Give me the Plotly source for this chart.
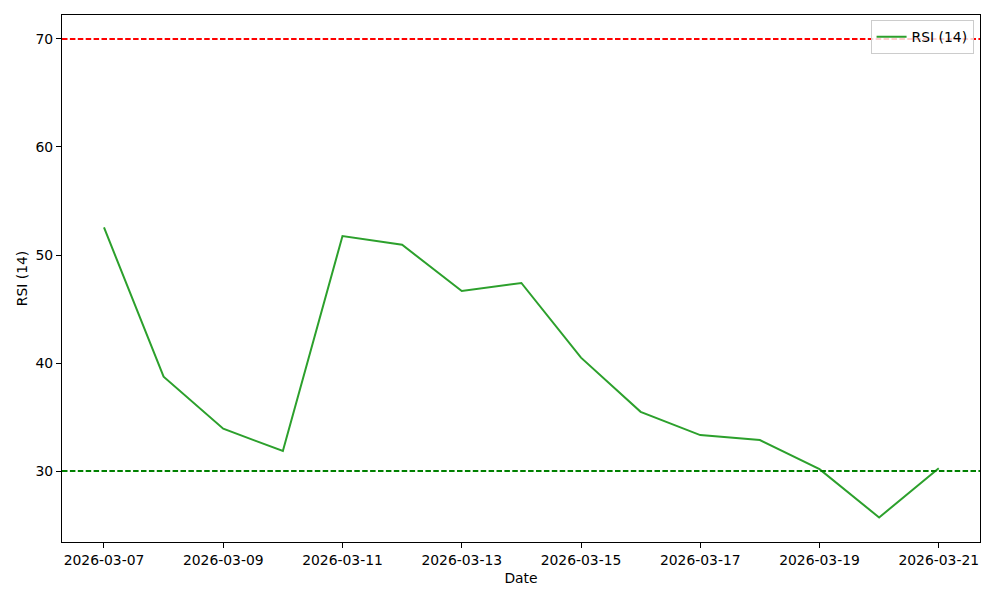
import plotly.graph_objects as go
import pandas as pd

dates = pd.date_range("2026-03-07", "2026-03-21", freq="D").strftime("%Y-%m-%d").tolist()
rsi = [52.55, 38.73, 33.92, 31.85, 51.76, 50.95, 46.67, 47.41, 40.5, 35.48, 33.33, 32.87, 30.17, 25.7, 30.26]
overbought = 70
oversold = 30
tick_dates = dates[::2]

fig = go.Figure()
fig.add_trace(go.Scatter(x=dates, y=rsi, mode="lines", name="RSI (14)",
                         line=dict(color="#2ca02c", width=2)))

fig.add_shape(type="line", xref="paper", x0=0, x1=1, yref="y", y0=overbought, y1=overbought,
              line=dict(color="#ff0000", width=2, dash="5.5px,2.4px"))
fig.add_shape(type="line", xref="paper", x0=0, x1=1, yref="y", y0=oversold, y1=oversold,
              line=dict(color="#008000", width=2, dash="5.5px,2.4px"))

fs = 13.9
font = dict(family="DejaVu Sans", size=fs, color="black")
fig.update_layout(
    width=984, height=584,
    paper_bgcolor="white", plot_bgcolor="white",
    margin=dict(l=54, r=12, t=7, b=50),
    font=font,
    showlegend=True,
    legend=dict(x=0.993, y=0.99, xanchor="right", yanchor="top",
                bgcolor="rgba(255,255,255,0.8)", bordercolor="#cccccc", borderwidth=1,
                font=dict(family="DejaVu Sans", size=fs), itemwidth=30),
    xaxis=dict(title=dict(text="Date", standoff=6, font=dict(family="DejaVu Sans", size=fs)),
               type="date",
               range=["2026-03-06 07:06", "2026-03-21 16:36"],
               tickvals=tick_dates, ticktext=tick_dates,
               tickfont=dict(family="DejaVu Sans", size=fs),
               showgrid=False, zeroline=False,
               showline=True, linecolor="black", linewidth=1, mirror=True,
               ticks="outside", ticklen=5, tickcolor="black"),
    yaxis=dict(title=dict(text="RSI (14)", standoff=4, font=dict(family="DejaVu Sans", size=fs)),
               range=[23.43, 72.22], tickvals=[30, 40, 50, 60, 70],
               tickfont=dict(family="DejaVu Sans", size=fs),
               showgrid=False, zeroline=False,
               showline=True, linecolor="black", linewidth=1, mirror=True,
               ticks="outside", ticklen=5, tickcolor="black"),
)

fig.write_html("out.html")
